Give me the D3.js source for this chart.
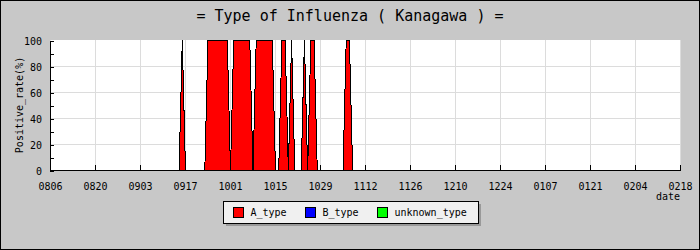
<!DOCTYPE html>
<html><head><meta charset="utf-8">
<script src="https://cdn.jsdelivr.net/npm/d3@7"></script>
<style>
body{margin:0;background:#c8c8c8}
text{font-family:"DejaVu Sans Mono","Liberation Mono",monospace;fill:#000}
</style>
</head><body>
<svg id="chart" width="700" height="250"></svg>
<script>
// ---- data (daily positive rate %, starting 2009-08-06) ----
const startDate = "2009-08-06";
const aType = [
  0,0,0,0,0,0,0,0,0,0,
  0,0,0,0,0,0,0,0,0,0,
  0,0,0,0,0,0,0,0,0,0,
  0,0,0,0,0,0,0,0,0,0,
  0,100,0,0,0,0,0,0,0,100,
  100,100,100,100,100,100,0,100,100,100,
  100,100,100,0,100,100,100,100,100,100,
  0,0,100,100,0,100,0,0,0,100,
  0,100,100,0,0,0,0,0,0,0,
  0,0,100,100,0,0,0,0,0
];
const bType = [
  0,0,0,0,0,0,0,0,0,0, 0,0,0,0,0,0,0,0,0,0,
  0,0,0,0,0,0,0,0,0,0, 0,0,0,0,0,0,0,0,0,0,
  0,0,0,0,0,0,0,0,0,0, 0,0,0,0,0,0,0,0,0,0,
  0,0,0,0,0,0,0,0,0,0, 0,0,0,0,0,0,0,0,0,0,
  0,0,0,0,0,0,0,0,0,0, 0,0,0,0,0,0,0,0,0
];
const unknownType = [
  0,0,0,0,0,0,0,0,0,0, 0,0,0,0,0,0,0,0,0,0,
  0,0,0,0,0,0,0,0,0,0, 0,0,0,0,0,0,0,0,0,0,
  0,0,0,0,0,0,0,0,0,0, 0,0,0,0,0,0,0,0,0,0,
  0,0,0,0,0,0,0,0,0,0, 0,0,0,0,0,0,0,0,0,0,
  0,0,0,0,0,0,0,0,0,0, 0,0,0,0,0,0,0,0,0
];
const seriesNames = ["A_type", "B_type", "unknown_type"];
const tickLabels = ["0806","0820","0903","0917","1001","1015","1029","1112",
                    "1126","1210","1224","0107","0121","0204","0218"];
const yTickValues = [0,10,20,30,40,50,60,70,80,90,100];
const yLabelValues = [0,20,40,60,80,100];
const yGridValues = [20,40,60,80];

// ---- styles ----
const colors = {A_type:"#ff0000", B_type:"#0000ff", unknown_type:"#00ff00"};

const svg = d3.select("#chart");
const W = 700, H = 250;
const pLeft = 50, pRight = 680, pTop = 40.5, pBottom = 170.5;

const start = d3.utcParse("%Y-%m-%d")(startDate);
const labelToDate = s => {
  const m = +s.slice(0,2), d = +s.slice(2);
  return new Date(Date.UTC(m >= 8 ? 2009 : 2010, m - 1, d));
};
const tickDates = tickLabels.map(labelToDate);

const table = aType.map((v, i) => ({
  date: d3.utcDay.offset(start, i),
  A_type: v, B_type: bType[i], unknown_type: unknownType[i]
}));
const stacked = d3.stack().keys(seriesNames)(table);

const x = d3.scaleUtc().domain([tickDates[0], tickDates[tickDates.length-1]]).range([pLeft, pRight]);
const y = d3.scaleLinear().domain([0, 100]).range([pBottom, pTop]);

// background + border
svg.append("rect").attr("x",0.5).attr("y",0.5).attr("width",W-1).attr("height",H-1)
  .attr("fill","#c8c8c8").attr("stroke","#000");

// title
svg.append("text").attr("x",350).attr("y",21).attr("text-anchor","middle")
  .style("font-size","15px").text("= Type of Influenza ( Kanagawa ) =");

// plot area
svg.append("rect").attr("x",pLeft+0.5).attr("y",40).attr("width",pRight-pLeft).attr("height",130)
  .attr("fill","#fff");

// grid
const grid = svg.append("g").attr("stroke","#dcdcdc").attr("shape-rendering","crispEdges");
grid.selectAll(".gy").data(yGridValues).join("line")
  .attr("x1",pLeft).attr("x2",pRight+1).attr("y1",d=>Math.floor(y(d))+0.5).attr("y2",d=>Math.floor(y(d))+0.5);
grid.selectAll(".gx").data(tickDates.slice(1)).join("line")
  .attr("x1",d=>x(d)+0.5).attr("x2",d=>x(d)+0.5).attr("y1",40).attr("y2",170);

// areas
const area = d3.area().x(d=>x(d.data.date)+0.5).y0(d=>y(d[0])).y1(d=>y(d[1]));
const line = d3.line().x(d=>x(d.data.date)+0.5).y(d=>y(d[1]));
svg.append("g").selectAll("path").data(stacked).join("path")
  .attr("d",area).attr("fill",d=>colors[d.key]).attr("shape-rendering","crispEdges");
svg.append("g").selectAll("path").data(stacked).join("path")
  .attr("d",line).attr("fill","none").attr("stroke","#000").attr("stroke-width",1)
  .attr("shape-rendering","crispEdges");

// x axis
const xAxis = d3.axisBottom(x).tickValues(tickDates)
  .tickFormat((d,i)=>tickLabels[i]).tickSizeInner(-5).tickSizeOuter(0).tickPadding(13);
const gx = svg.append("g").attr("transform",`translate(0,170)`).call(xAxis);
gx.selectAll("text").style("font-size","10px");
gx.selectAll("path,line").attr("stroke","#000").attr("shape-rendering","crispEdges");

// y axis
const yAxis = d3.axisLeft(y).tickValues(yTickValues)
  .tickFormat(d=>yLabelValues.includes(d)?d:"").tickSizeInner(-4).tickSizeOuter(0).tickPadding(8);
const gy = svg.append("g").attr("transform",`translate(${pLeft},0)`).call(yAxis);
gy.selectAll("text").style("font-size","10px").attr("dy","0.4em");
gy.selectAll("path,line").attr("stroke","#000").attr("shape-rendering","crispEdges");

// axis titles
svg.append("text").attr("transform","translate(23,105) rotate(-90)").attr("text-anchor","middle")
  .style("font-size","10px").text("Positive_rate(%)");
svg.append("text").attr("x",680).attr("y",200).attr("text-anchor","end")
  .style("font-size","10px").text("date");

// legend
const lg = svg.append("g");
lg.append("rect").attr("x",226).attr("y",204).attr("width",255).attr("height",22).attr("fill","#999");
lg.append("rect").attr("x",223.5).attr("y",201.5).attr("width",255).attr("height",22)
  .attr("fill","#f0f0f0").attr("stroke","#000");
seriesNames.forEach((k,i)=>{
  lg.append("rect").attr("x",233.5+i*72).attr("y",207.5).attr("width",10).attr("height",10)
    .attr("fill",colors[k]).attr("stroke","#000");
  lg.append("text").attr("x",250.5+i*72).attr("y",216).style("font-size","10px").text(k);
});
</script>
</body></html>
